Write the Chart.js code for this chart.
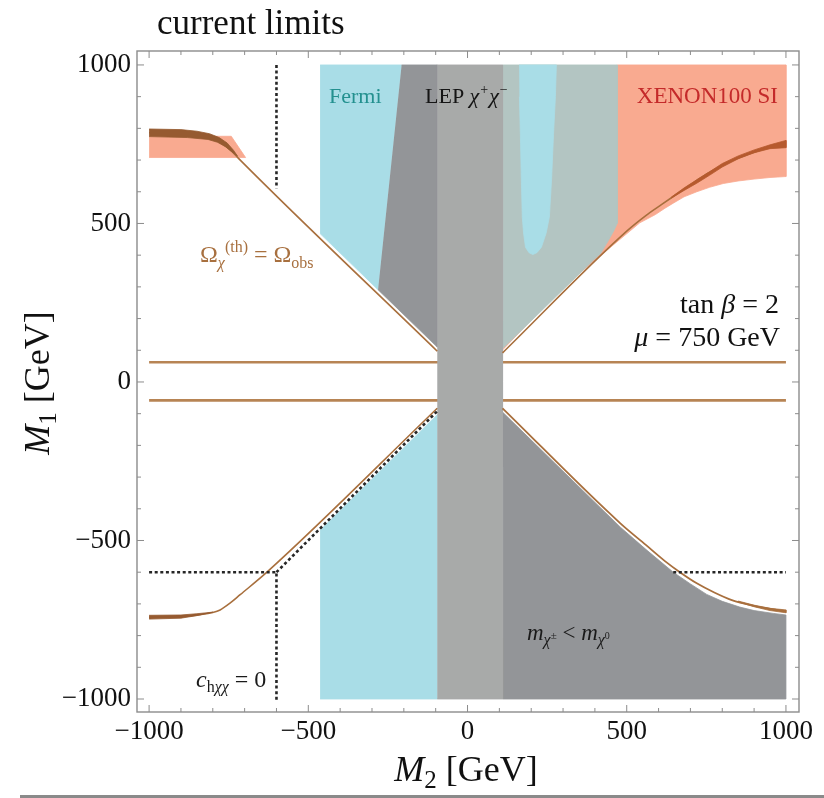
<!DOCTYPE html>
<html><head><meta charset="utf-8">
<script src="https://cdn.jsdelivr.net/npm/chart.js@4.4.1/dist/chart.umd.min.js"></script>
<style>html,body{margin:0;padding:0;background:#fff;}canvas{display:block}</style>
</head><body>
<canvas id="c" width="824" height="798"></canvas>
<script>
// ---------- tick values ----------
const xMajorTicks=[-1000,-500,0,500,1000];
const yMajorTicks=[-1000,-500,0,500,1000];
const minorTicks=[-900,-800,-700,-600,-400,-300,-200,-100,100,200,300,400,600,700,800,900];

// ---------- excluded regions (M2, M1) ----------
const xenonUpperLeft=[[-1000,775],[-742,775],[-697,708],[-1000,708]];
const xenonUpperRight=[[470,1000],[1000,1000],[1000,648],[950,645],[900,640],[850,634],[803,626],[760,614],[720,600],[680,584],[646,564],[620,548],[590,528],[541,502],[300,300],[110,101]];
const fermiLepOverlap=[[110,1000],[470,1000],[470,500],[460,478],[440,442],[418,405],[395,384],[110,105]];
const fermiFinger=[[162,1000],[279,1000],[276,900],[270,780],[264,640],[257,520],[247,470],[232,425],[218,408],[205,402],[193,408],[182,425],[176,470],[172,520],[169,640],[166,780],[163,900]];
const fermiUpper=[[-463,1000],[-207,1000],[-281,291],[-463,468]];
const lepUpper=[[-207,1000],[-95,1000],[-95,110],[-281,291]];
const fermiLower=[[-463,-1000],[-95,-1000],[-95,-103],[-463,-468]];
const lepBand=[[-95,1000],[110,1000],[110,-1000],[-95,-1000]];
const charginoLighter=[[110,-1000],[1000,-1000],[1000,-735],[960,-730],[900,-721],[855,-710],[800,-692],[751,-670],[700,-637],[646,-600],[560,-528],[480,-458],[110,-95]];

// ---------- relic density curves ----------
const relicUpperLeft=[[-1000,786],[-950,785],[-900,783],[-850,778],[-800,766],[-765,748],[-740,727],[-720,706],[-95,97]];
const relicUpperLeftBand=[[-1000,798],[-900,796],[-850,791],[-810,783],[-780,771],[-755,754],[-735,731],[-722,712],[-740,726],[-760,742],[-785,756],[-815,765],[-880,771],[-1000,774]];
const relicUpperRight=[[110,92],[500,476],[560,525],[610,560],[646,585],[700,622],[751,656],[800,683],[855,708],[910,728],[960,742],[1000,750]];
const relicUpperRightBand=[[640,583],[680,612],[720,638],[760,663],[800,689],[850,713],[900,732],[950,748],[1000,762],[1000,739],[950,736],[900,723],[850,704],[800,678],[760,652],[720,627],[680,604],[640,580]];
const relicLowerLeft=[[-1000,-742],[-900,-740],[-840,-734],[-800,-727],[-777,-719],[-745,-697],[-714,-671],[-630,-600],[-95,-83]];
const relicLowerLeftBand=[[-1000,-736],[-900,-735],[-850,-731],[-800,-726],[-850,-737],[-900,-745],[-1000,-748]];
const relicLowerRight=[[110,-83],[480,-446],[560,-514],[620,-565],[667,-600],[720,-635],[775,-664],[830,-688],[900,-706],[960,-717],[1000,-723]];
const relicLowerRightBand=[[850,-691],[900,-704],[950,-714],[1000,-719],[1000,-728],[950,-721],[900,-709],[850,-694]];
const relicPlateauUp=[[-1000,62],[1000,62]];
const relicPlateauDown=[[-1000,-58],[1000,-58]];

// ---------- c_hxx = 0 dotted lines ----------
const blindUpper=[[-600,1000],[-600,610]];
const blindLowerLeft=[[-1000,-600],[-600,-600],[-600,-1005]];
const blindDiagonal=[[-600,-600],[-95,-92]];
const blindLowerRight=[[646,-600],[1000,-600]];

const C={cyan:'#a9dde7',dark:'#939598',band:'#a8aaa9',teal:'#b3c5c2',salmon:'#f9aa90',
  brown:'#a86f3d',brownH:'#b78454',bandUL:'#965a30',bandUR:'#b65a2e',dot:'#262626'};

const pts=a=>a.map(p=>({x:p[0],y:p[1]}));
function region(a,color,order){return{data:pts(a),showLine:true,fill:'shape',backgroundColor:color,borderColor:color,borderWidth:0.8,pointRadius:0,tension:0,order};}
function curve(a,color,w,order,dash){return{data:pts(a),showLine:true,fill:false,borderColor:color,borderWidth:w,pointRadius:0,
  cubicInterpolationMode:dash?'default':'monotone',tension:0,borderDash:dash||[],order};}

const datasets=[
  region(xenonUpperLeft,C.salmon,100),
  region(xenonUpperRight,C.salmon,99),
  region(fermiLepOverlap,C.teal,98),
  region(fermiFinger,C.cyan,97),
  region(fermiUpper,C.cyan,96),
  region(lepUpper,C.dark,95),
  region(fermiLower,C.cyan,94),
  region(charginoLighter,C.dark,93),
  curve(relicPlateauUp,C.brownH,2.6,92),
  curve(relicPlateauDown,C.brownH,2.6,91),
  region(lepBand,C.band,90),
  curve(relicUpperLeft,C.brown,1.6,80),
  curve(relicUpperRight,C.brown,1.6,79),
  curve(relicLowerLeft,C.brown,1.6,78),
  curve(relicLowerRight,C.brown,1.8,77),
  region(relicUpperLeftBand,C.bandUL,76),
  region(relicUpperRightBand,C.bandUR,75),
  region(relicLowerLeftBand,C.bandUL,74),
  region(relicLowerRightBand,C.brown,73),
  curve(blindUpper,C.dot,2.6,60,[3,2.6]),
  curve(blindLowerLeft,C.dot,2.6,59,[3,2.6]),
  curve(blindDiagonal,C.dot,2.6,58,[3,2.6]),
  curve(blindLowerRight,C.dot,2.6,57,[3,2.6])
];

const SERIF='"Liberation Serif","DejaVu Serif",serif';
function fnt(s){return (s.it?'italic ':'')+s.s+'px '+SERIF;}
function rich(ctx,x,y,segs,align,color){
  let w=0;for(const s of segs){ctx.font=fnt(s);w+=ctx.measureText(s.t).width+(s.k||0);}
  let cx=align==='right'?x-w:align==='center'?x-w/2:x;
  ctx.textBaseline='alphabetic';ctx.textAlign='left';
  for(const s of segs){ctx.font=fnt(s);ctx.fillStyle=color;ctx.fillText(s.t,cx,y+(s.dy||0));cx+=ctx.measureText(s.t).width+(s.k||0);}
}

const labels=[
  {x:329,y:103,align:'left',color:'#23908f',segs:[{t:'Fermi',s:22}]},
  {x:425,y:103,align:'left',color:'#151515',segs:[{t:'LEP ',s:22},{t:'χ',s:22,it:1,k:1},{t:'+',s:14,dy:-9,k:1},{t:'χ',s:22,it:1,k:1},{t:'−',s:14,dy:-9}]},
  {x:778,y:103,align:'right',color:'#c42a2a',segs:[{t:'XENON100 SI',s:23}]},
  {x:200,y:262,align:'left',color:'#a8703f',segs:[{t:'Ω',s:24},{t:'χ',s:16,it:1,dy:6},{t:'(th)',s:16,dy:-10},{t:' = Ω',s:24},{t:'obs',s:16,dy:6}]},
  {x:779,y:313,align:'right',color:'#111',segs:[{t:'tan ',s:28},{t:'β',s:28,it:1},{t:' = 2',s:28}]},
  {x:780,y:346,align:'right',color:'#111',segs:[{t:'μ',s:28,it:1},{t:' = 750 GeV',s:28}]},
  {x:527,y:640,align:'left',color:'#1a1a1a',segs:[{t:'m',s:23,it:1},{t:'χ',s:16,it:1,dy:5},{t:'±',s:11,dy:-1},{t:' < ',s:23},{t:'m',s:23,it:1},{t:'χ',s:16,it:1,dy:5},{t:'0',s:10,dy:-1}]},
  {x:196,y:687,align:'left',color:'#1a1a1a',segs:[{t:'c',s:24,it:1},{t:'h',s:16,dy:5},{t:'χχ',s:16,it:1,dy:5},{t:' = 0',s:24}]}
];

const deco={id:'deco',
  beforeDraw(ch){const c=ch.ctx;c.save();c.fillStyle='#fff';c.fillRect(0,0,ch.width,ch.height);c.restore();},
  afterDraw(ch){
    const c=ch.ctx,a=ch.chartArea,xs=ch.scales.x,ys=ch.scales.y;
    c.save();
    c.strokeStyle='#8c8c8c';c.lineWidth=1.4;
    c.strokeRect(a.left,a.top,a.right-a.left,a.bottom-a.top);
    c.beginPath();
    const tick=(v,len)=>{
      const px=xs.getPixelForValue(v),py=ys.getPixelForValue(v);
      c.moveTo(px,a.bottom);c.lineTo(px,a.bottom-len);
      c.moveTo(px,a.top);c.lineTo(px,a.top+len);
      c.moveTo(a.left,py);c.lineTo(a.left+len,py);
      c.moveTo(a.right,py);c.lineTo(a.right-len,py);
    };
    xMajorTicks.forEach(v=>tick(v,7));minorTicks.forEach(v=>tick(v,4));
    c.lineWidth=1;c.stroke();
    labels.forEach(l=>rich(c,l.x,l.y,l.segs,l.align,l.color));
    rich(c,157,34,[{t:'current limits',s:35}],'left','#111');
    rich(c,466,781,[{t:'M',s:36,it:1},{t:'2',s:25,dy:7},{t:' [GeV]',s:36}],'center','#111');
    c.translate(49,383);c.rotate(-Math.PI/2);
    rich(c,0,0,[{t:'M',s:36,it:1},{t:'1',s:25,dy:7},{t:' [GeV]',s:36}],'center','#111');
    c.restore();
    c.save();c.fillStyle='#8a8a8a';c.fillRect(20,795,804,3);c.restore();
  }};

const fmt=v=>v<0?'−'+Math.abs(v):String(v);
new Chart(document.getElementById('c'),{
  type:'scatter',
  data:{datasets},
  options:{
    responsive:false,animation:false,events:[],
    layout:{padding:{left:0,top:51,right:25,bottom:0}},
    plugins:{legend:{display:false},tooltip:{enabled:false},title:{display:false}},
    scales:{
      x:{type:'linear',min:-1038,max:1041,
        afterBuildTicks:s=>{s.ticks=xMajorTicks.map(v=>({value:v}));},
        afterFit:s=>{s.height=86;},
        grid:{display:false,drawTicks:false},border:{display:false},
        ticks:{autoSkip:false,maxRotation:0,padding:4,color:'#111',font:{family:SERIF,size:27},callback:v=>fmt(v)}},
      y:{type:'linear',min:-1041,max:1044,
        afterBuildTicks:s=>{s.ticks=yMajorTicks.map(v=>({value:v}));},
        afterFit:s=>{s.width=137;},
        grid:{display:false,drawTicks:false},border:{display:false},
        ticks:{autoSkip:false,padding:6,color:'#111',font:{family:SERIF,size:27},callback:v=>fmt(v)}}
    }
  },
  plugins:[deco]
});
</script>
</body></html>
